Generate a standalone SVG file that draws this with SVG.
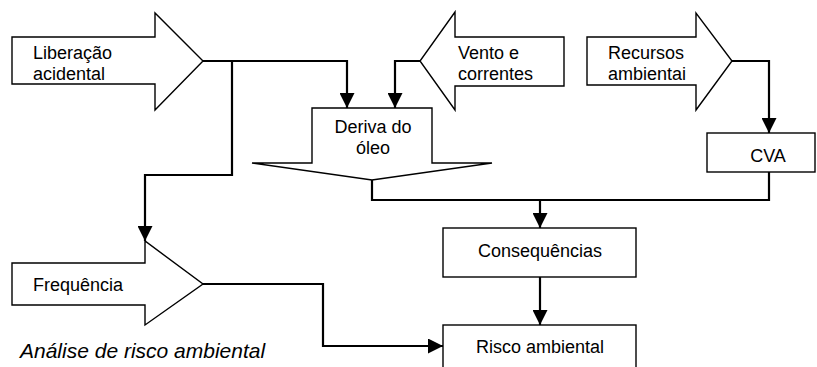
<svg xmlns="http://www.w3.org/2000/svg" width="817" height="367" viewBox="0 0 817 367">
<defs>
<marker id="ah" markerUnits="userSpaceOnUse" markerWidth="15" markerHeight="15" refX="15" refY="7.5" orient="auto">
<path d="M0,0 L15,7.5 L0,15 z" fill="#000"/>
</marker>
</defs>
<style>
.shape{fill:#fff;stroke:#000;stroke-width:1.4;stroke-linejoin:miter}
.conn{fill:none;stroke:#000;stroke-width:2.2}
.arr{marker-end:url(#ah)}
text{font-family:"Liberation Sans",Arial,sans-serif;font-size:18px;fill:#000}
.mid{text-anchor:middle}
.title{font-style:italic;font-size:21px}
</style>
<rect width="817" height="367" fill="#fff"/>
<g id="liberacao">
<path class="shape" d="M12,37 H155 V13 L203,61 L155,110 V84 H12 Z"/>
<text x="33" y="59">Liberação</text>
<text x="33" y="80">acidental</text>
</g>
<g id="vento">
<path class="shape" d="M564,37 H455 V12 L420,61 L455,110 V86 H564 Z"/>
<text x="458" y="59">Vento e</text>
<text x="458" y="80">correntes</text>
</g>
<g id="recursos">
<path class="shape" d="M587,37 H696 V13 L732,61 L696,110 V85 H587 Z"/>
<text x="608" y="59">Recursos</text>
<text x="608" y="80">ambientai</text>
</g>
<g id="deriva">
<path class="shape" d="M312,108 H432 V163 H492 L372,180 L252,163 H312 Z"/>
<text class="mid" x="373" y="133">Deriva do</text>
<text class="mid" x="373" y="154">óleo</text>
</g>
<g id="cva">
<rect class="shape" x="707" y="133" width="108" height="39"/>
<text class="mid" x="768" y="162">CVA</text>
</g>
<g id="consequencias">
<rect class="shape" x="443" y="228" width="193" height="49"/>
<text class="mid" x="540" y="257">Consequências</text>
</g>
<g id="frequencia">
<path class="shape" d="M12,263 H145 V241 L203,284 L145,325 V305 H12 Z"/>
<text x="33" y="291">Frequência</text>
</g>
<g id="risco">
<rect class="shape" x="443" y="325" width="193" height="50"/>
<text class="mid" x="540" y="353">Risco ambiental</text>
</g>
<g id="connectors">
<path class="conn arr" d="M203,61 H347 V108"/>
<path class="conn arr" d="M232,61 V175 H145 V241"/>
<path class="conn arr" d="M420,61 H395 V108"/>
<path class="conn arr" d="M732,61 H769 V133"/>
<path class="conn" d="M372,180 V200 H769 V172"/>
<path class="conn arr" d="M540,200 V228"/>
<path class="conn arr" d="M540,277 V325"/>
<path class="conn arr" d="M203,284 H323 V346 H443"/>
</g>
<text class="title" x="20" y="358">Análise de risco ambiental</text>
</svg>
